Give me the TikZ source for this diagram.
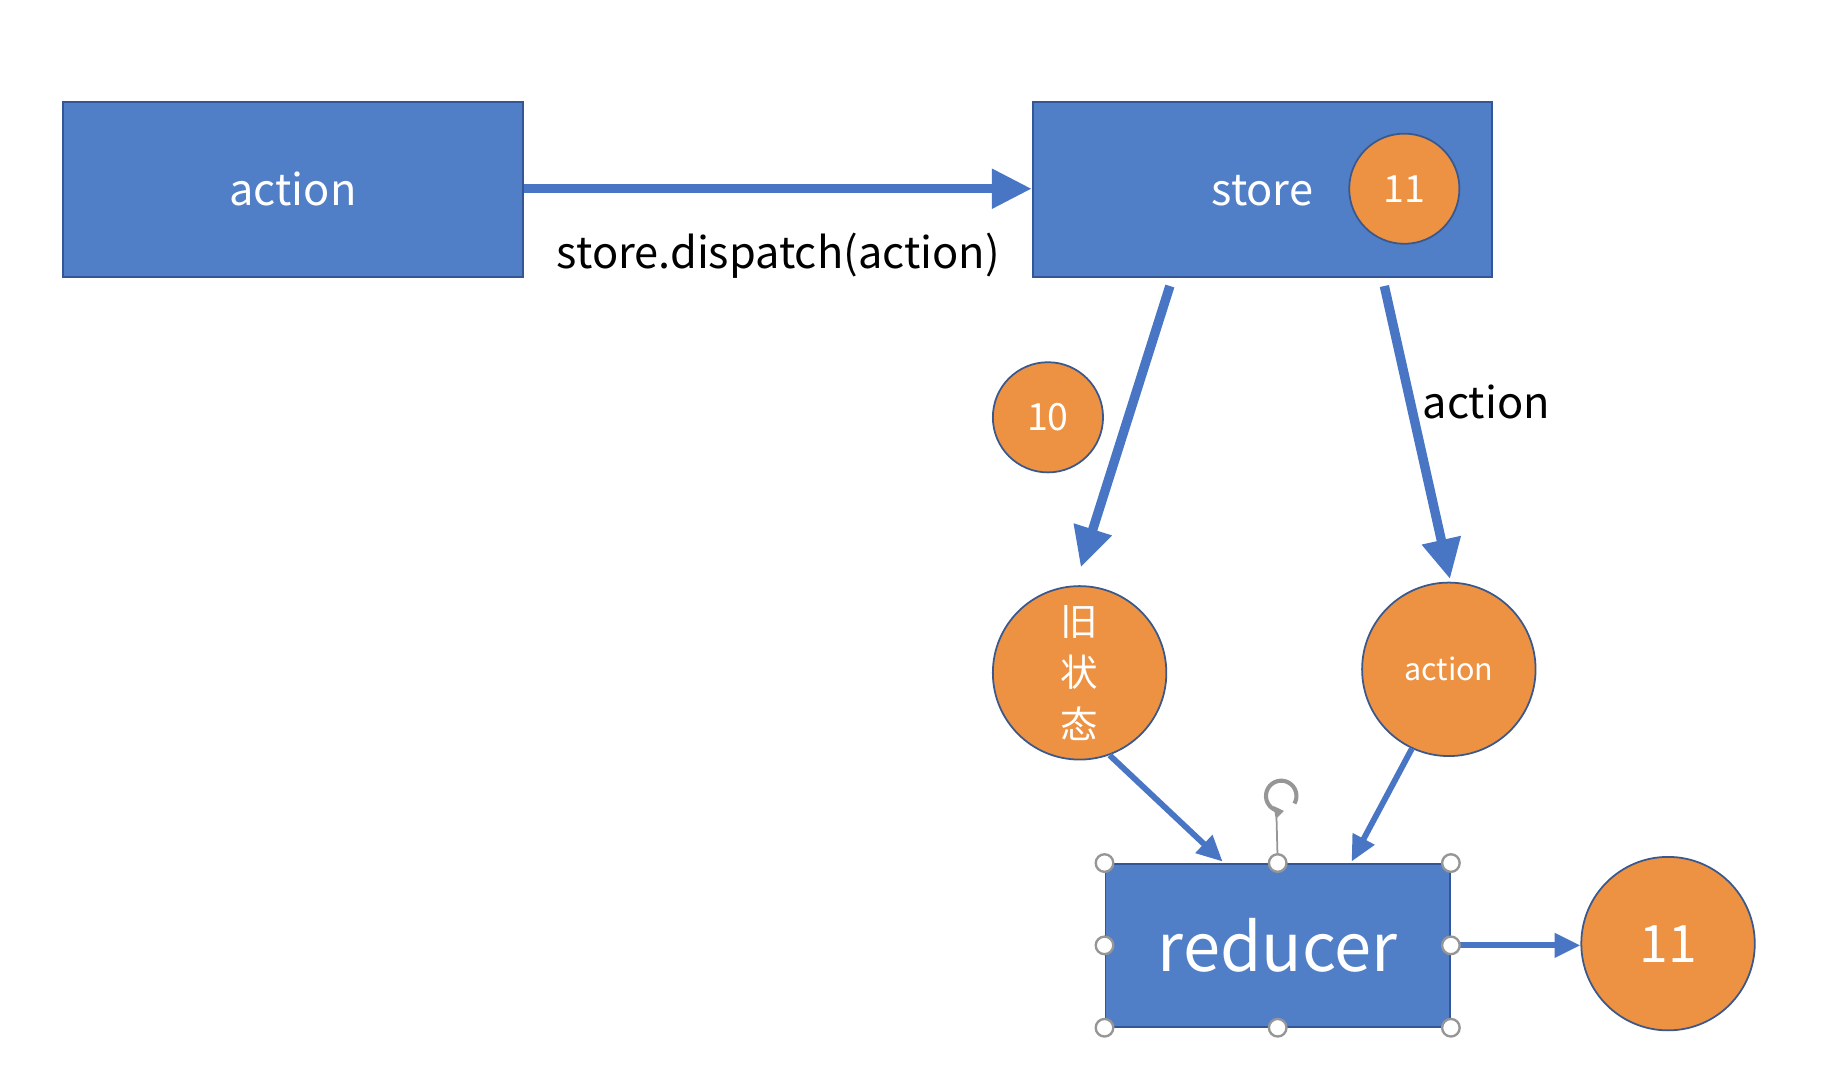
\documentclass[tikz,border=0pt]{standalone}
\usepackage{fontspec}
\setmainfont{Noto Sans CJK SC}
\usetikzlibrary{arrows.meta}
\definecolor{boxblue}{RGB}{80,127,200}
\definecolor{boxline}{RGB}{50,86,150}
\definecolor{orng}{RGB}{236,146,66}
\definecolor{circline}{RGB}{58,88,140}
\definecolor{arrblue}{RGB}{72,118,196}
\definecolor{hgray}{RGB}{150,150,150}
\begin{document}
\begin{tikzpicture}[x=1pt,y=-1pt,
  box/.style={draw=boxline, line width=1.5pt, fill=boxblue, text=white, inner sep=0pt},
  ball/.style={circle, draw=circline, line width=1.5pt, fill=orng, text=white, inner sep=0pt},
  thick arrow/.style={draw=arrblue, line width=8pt, -{Triangle[length=34pt,width=32pt]}},
  thin arrow/.style={draw=arrblue, line width=5pt, -{Triangle[length=22pt,width=20pt]}},
  handle/.style={circle, draw=hgray, fill=white, line width=2pt, minimum size=15pt, inner sep=0pt},
  lbl/.style={text=black, inner sep=0pt, font=\fontsize{37}{44}\selectfont}
]
\useasboundingbox (0,0) rectangle (1568,916);
\fill[white] (0,0) rectangle (1568,916);

% boxes
\node[box, minimum width=392pt, minimum height=149pt, font=\fontsize{37}{44}\selectfont] (action) at (250,161.5) {action};
\node[box, minimum width=392pt, minimum height=149pt] (store) at (1077,161.5) {};
\node[text=white, inner sep=0pt, font=\fontsize{37}{44}\selectfont] (storet) at (1077,163) {store};
\node[ball, minimum size=94pt, font=\fontsize{32}{38}\selectfont] (s11) at (1198,161) {11};

% dispatch arrow
\draw[thick arrow] (action.east |- 0,161) -- (store.west |- 0,161);
\node[lbl] (disp) at (664,218) {store.dispatch(action)};

% circles
\node[ball, minimum size=94pt, font=\fontsize{32}{38}\selectfont] (c10) at (894,356) {10};
\node[ball, minimum size=148pt, align=center, font=\fontsize{32}{44}\selectfont] (old) at (921,574) {旧\\状\\态};
\node[ball, minimum size=148pt, font=\fontsize{26}{30}\selectfont] (act) at (1236,571) {action};
\node[ball, minimum size=148pt, font=\fontsize{44}{50}\selectfont] (r11) at (1423,805) {11};

% reducer
\node[box, minimum width=294pt, minimum height=139pt, font=\fontsize{57}{66}\selectfont] (red) at (1090,806.5) {reducer};

% store arrows
\coordinate (sa) at (998,244);
\coordinate (sb) at (1181,244);
\coordinate (ta) at (922,484);
\coordinate (tb) at (1237,494);
\draw[thick arrow] (sa) -- (ta);
\draw[thick arrow] (sb) -- (tb);
\node[lbl] (actl) at (1268,343) {action};

% into reducer
\coordinate (ra) at (1043,735);
\coordinate (rb) at (1153,735);
\draw[thin arrow] (old.-70) -- (ra);
\draw[thin arrow] (act.-115) -- (rb);
\draw[thin arrow] (red.east) -- (r11.west |- red.east);

% selection handles
\coordinate (rot) at (1089,698);
\draw[hgray, line width=1.5pt] (red.north) -- (rot);
\draw[hgray, line width=3.5pt, -{Triangle[length=8pt,width=11pt]}] (1093,679) ++(-30:13pt) arc[start angle=-30, end angle=280, radius=13pt];
\foreach \a in {north west, north, north east, west, east, south west, south, south east}
  \node[handle] at (red.\a) {};
\end{tikzpicture}
\end{document}
